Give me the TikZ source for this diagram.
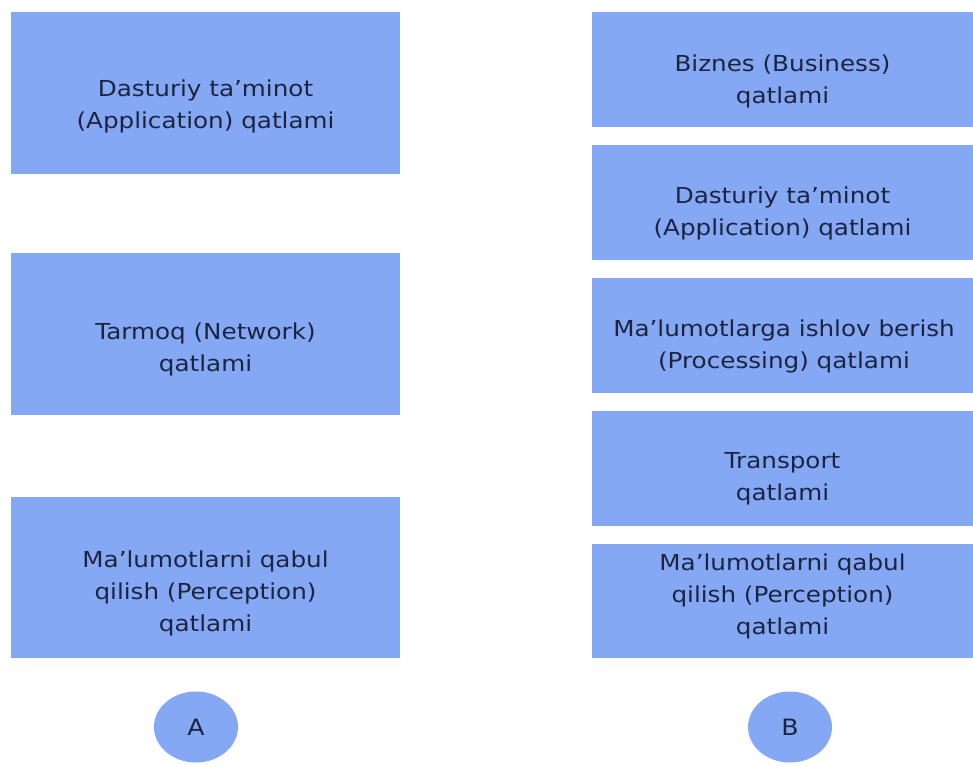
\documentclass[tikz,border=0pt]{standalone}
\usepackage{fontspec}
\setmainfont{DejaVu Sans}[FakeStretch=1.12]
\usetikzlibrary{shapes.geometric}
\definecolor{boxblue}{RGB}{133,168,245}
\definecolor{txt}{RGB}{28,36,64}
\begin{document}
\begin{tikzpicture}[x=1pt,y=-1pt,
  layerfill/.style={fill=boxblue},
  layertext/.style={draw=none, inner sep=0pt, align=center, text=txt,
    font=\fontsize{22}{32}\selectfont},
  badge/.style={ellipse, fill=boxblue, draw=none, minimum width=84pt, minimum height=71pt,
    inner sep=0pt, text=txt, font=\fontsize{22.5}{26}\selectfont}]
\useasboundingbox[fill=white] (0,0) rectangle (973,766);
% Left column (A)
\fill[layerfill] (11,12) rectangle (400,174);
\node[layertext] (a1) at (205.5,106) {Dasturiy ta’minot\\(Application) qatlami};
\fill[layerfill] (11,253) rectangle (400,415);
\node[layertext] (a2) at (205.5,349) {Tarmoq (Network)\\qatlami};
\fill[layerfill] (11,497) rectangle (400,658);
\node[layertext] (a3) at (205.5,593) {Ma’lumotlarni qabul\\qilish (Perception)\\qatlami};
\node[badge] (ca) at (196,727) {A};
% Right column (B)
\fill[layerfill] (592,12) rectangle (973,127);
\node[layertext] (b1) at (782.5,81) {Biznes (Business)\\qatlami};
\fill[layerfill] (592,145) rectangle (973,260);
\node[layertext] (b2) at (782.5,213) {Dasturiy ta’minot\\(Application) qatlami};
\fill[layerfill] (592,278) rectangle (973,393);
\node[layertext] (b3) at (784,346) {Ma’lumotlarga ishlov berish\\(Processing) qatlami};
\fill[layerfill] (592,411) rectangle (973,526);
\node[layertext] (b4) at (782.5,479) {Transport\\qatlami};
\fill[layerfill] (592,544) rectangle (973,658);
\node[layertext] (b5) at (782.5,596) {Ma’lumotlarni qabul\\qilish (Perception)\\qatlami};
\node[badge] (cb) at (790,727) {B};
\end{tikzpicture}
\end{document}
